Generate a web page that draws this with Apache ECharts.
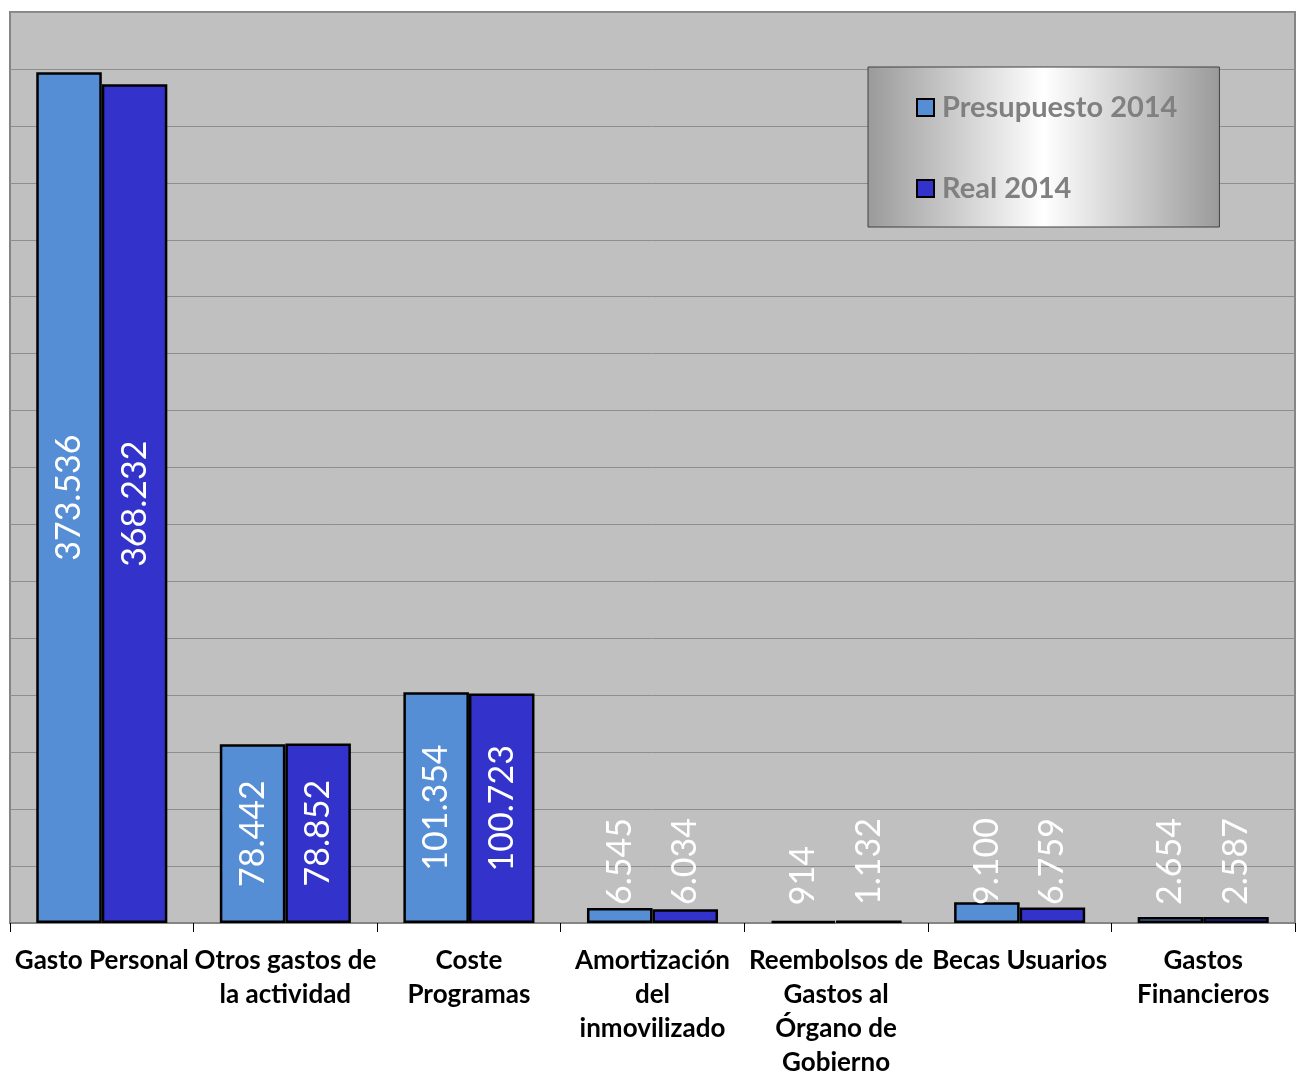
<!DOCTYPE html>
<html>
<head>
<meta charset="utf-8">
<script src="https://cdn.jsdelivr.net/npm/echarts@6/dist/echarts.min.js"></script>
<style>html,body{margin:0;padding:0;background:#fff;}#c{width:1298px;height:1073px;}</style>
</head>
<body>
<div id="c"></div>
<script>
var categories = ['Gasto Personal', 'Otros gastos de\nla actividad', 'Coste\nProgramas', 'Amortización\ndel\ninmovilizado', 'Reembolsos de\nGastos al\nÓrgano de\nGobierno', 'Becas Usuarios', 'Gastos\nFinancieros'];
var presupuesto = [373536, 78442, 101354, 6545, 914, 9100, 2654];
var real = [368232, 78852, 100723, 6034, 1132, 6759, 2587];
var seriesNames = ['Presupuesto 2014', 'Real 2014'];

function fmt(v) { return String(v).replace(/\B(?=(\d{3})+(?!\d))/g, '.'); }
function mkData(arr) {
  return arr.map(function (v) {
    if (v < 30000) {
      return { value: v, label: { position: 'insideBottom', distance: 18, align: 'left', verticalAlign: 'middle' } };
    }
    return { value: v, label: { position: 'inside', align: 'center', verticalAlign: 'middle' } };
  });
}
var labelStyle = {
  show: true, rotate: 90, color: '#ffffff', fontFamily: 'Lato', fontSize: 34,
  formatter: function (p) { return fmt(p.value); }
};
var chart = echarts.init(document.getElementById('c'));
chart.setOption({
  backgroundColor: '#ffffff',
  animation: false,
  grid: { left: 10, right: 3, top: 12, bottom: 150, outerBoundsMode: 'none', containLabel: false,
    show: true, backgroundColor: '#c0c0c0', borderColor: '#858585', borderWidth: 2 },
  legend: {
    orient: 'vertical', left: 868, top: 67,
    padding: [26, 42, 24, 48],
    icon: 'rect',
    itemWidth: 17, itemHeight: 17, itemGap: 52,
    backgroundColor: new echarts.graphic.LinearGradient(0, 0, 1, 0, [
      { offset: 0, color: '#9a9a9a' }, { offset: 0.5, color: '#ffffff' }, { offset: 1, color: '#9a9a9a' }
    ]),
    borderColor: '#404040', borderWidth: 1,
    textStyle: { color: '#808080', fontFamily: 'Lato', fontWeight: 'bold', fontSize: 29, padding: [0, 0, 0, 3] },
    itemStyle: { borderColor: '#000', borderWidth: 2 },
    data: seriesNames
  },
  xAxis: {
    type: 'category', data: categories,
    axisLine: { show: true, lineStyle: { color: '#858585', width: 2 } },
    axisTick: { show: true, length: 9, lineStyle: { color: '#000' } },
    axisLabel: { interval: 0, color: '#000', fontFamily: 'Lato', fontWeight: 'bold', fontSize: 26, lineHeight: 34, margin: 21 }
  },
  yAxis: {
    type: 'value', min: 0, max: 400000, interval: 25000,
    axisLabel: { show: false }, axisLine: { show: false }, axisTick: { show: false },
    splitLine: { lineStyle: { color: '#8e8e8e', width: 1 } }
  },
  series: [
    { name: seriesNames[0], type: 'bar', data: mkData(presupuesto), barGap: '0%', barCategoryGap: '28.6%',
      itemStyle: { color: '#558ED5', borderColor: '#000', borderWidth: 2.5 }, label: labelStyle },
    { name: seriesNames[1], type: 'bar', data: mkData(real),
      itemStyle: { color: '#3333CC', borderColor: '#000', borderWidth: 2.5 }, label: labelStyle }
  ]
});
</script>
</body>
</html>
